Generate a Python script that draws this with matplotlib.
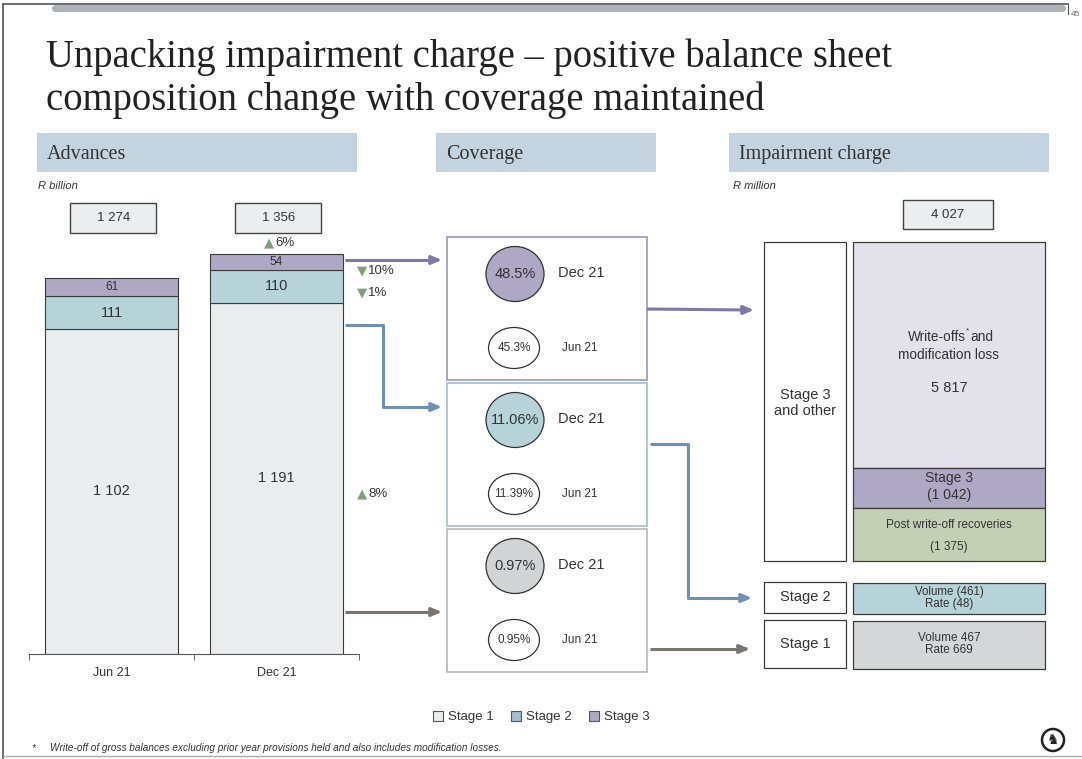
import matplotlib.pyplot as plt
import matplotlib.patches as mpatches
from matplotlib.transforms import blended_transform_factory

# advances, R billion
periods = ["Jun 21", "Dec 21"]
stage1 = [1102, 1191]
stage2 = [111, 110]
stage3 = [61, 54]
totals = [1274, 1356]

# period-on-period change per stage (sign gives the triangle)
change_total = 6
change_stage3 = -10
change_stage2 = -1
change_stage1 = 8

# coverage ratios, Dec 21 then Jun 21
cov_stage3 = ["48.5%", "45.3%"]
cov_stage2 = ["11.06%", "11.39%"]
cov_stage1 = ["0.97%", "0.95%"]
cov_periods = ["Dec 21", "Jun 21"]

# impairment charge, R million
impairment_total = 4027
stack_names = ["Write-offs", "Stage 3", "Post write-off recoveries"]
stack_values = [5817, 1042, 1375]
stage2_charge = ["Volume (461)", "Rate (48)"]
stage1_charge = ["Volume 467", "Rate 669"]

W, H = 1082, 759
SANS = ["Liberation Sans", "DejaVu Sans"]
SERIF = ["Liberation Serif", "DejaVu Serif"]
C1, C2, C3 = "#e9eded", "#b5d3d8", "#aea8c4"
EDGE = "#3c3c3c"
TXT = "#333333"
GREEN = "#7ea07a"


def fmt(v):
    return f"{v:,}".replace(",", " ")


def px_axes(x0, y0, x1, y1):
    return fig.add_axes([x0 / W, 1 - y1 / H, (x1 - x0) / W, (y1 - y0) / H])


fig = plt.figure(figsize=(W / 100, H / 100), dpi=100)
cv = fig.add_axes([0, 0, 1, 1])
cv.set_xlim(0, W)
cv.set_ylim(H, 0)
cv.axis("off")

# slide frame
cv.plot([3, 1068], [4, 4], color="#555555", lw=1.2)
cv.plot([3, 3], [4, H], color="#555555", lw=1.2)
cv.plot([1068, 1068], [4, 14], color="#555555", lw=0.8)
cv.plot([3, W], [756, 756], color="#aaaaaa", lw=1.0)
cv.add_patch(mpatches.FancyBboxPatch((52, 5), 1014, 7, boxstyle="round,pad=0,rounding_size=4",
                                     fc="#aab4ba", ec="none"))
cv.text(1071, 14, "45", fontsize=6, color="#666666", family=SANS, va="center")

# title
cv.text(46, 67, "Unpacking impairment charge \u2013 positive balance sheet", fontsize=27.8,
        family=SERIF, color="#222222", va="baseline")
cv.text(46, 110, "composition change with coverage maintained", fontsize=27.8,
        family=SERIF, color="#222222", va="baseline")

# section headers
for x0, x1, name in [(37, 357, "Advances"), (436, 656, "Coverage"), (729, 1049, "Impairment charge")]:
    cv.add_patch(mpatches.Rectangle((x0, 133), x1 - x0, 39, fc="#c3d3df", ec="none"))
    cv.text(x0 + 10, 159, name, fontsize=14.5, family=SERIF, color=TXT, va="baseline")
cv.text(38, 186, "R billion", fontsize=8, style="italic", family=SANS, color=TXT, va="center")
cv.text(733, 186, "R million", fontsize=8, style="italic", family=SANS, color=TXT, va="center")

# ---- advances stacked bars ----
ax = px_axes(29, 180, 359, 654)
ax.patch.set_alpha(0)
x = [0, 1]
bw = 0.81
b2 = stage1
b3 = [a + b for a, b in zip(stage1, stage2)]
ax.bar(x, stage1, width=bw, color=C1, edgecolor=EDGE, lw=0.8)
ax.bar(x, stage2, bottom=b2, width=bw, color=C2, edgecolor=EDGE, lw=0.8)
ax.bar(x, stage3, bottom=b3, width=bw, color=C3, edgecolor=EDGE, lw=0.8)
ax.set_xlim(-0.5, 1.5)
ax.set_ylim(0, 474 / 0.295)
for i in x:
    ax.text(i, stage1[i] / 2, fmt(stage1[i]), ha="center", va="center", fontsize=10.5, family=SANS, color=TXT)
    ax.text(i, b2[i] + stage2[i] / 2, fmt(stage2[i]), ha="center", va="center", fontsize=10.5, family=SANS, color=TXT)
    ax.text(i, b3[i] + stage3[i] / 2, fmt(stage3[i]), ha="center", va="center", fontsize=8.5, family=SANS, color=TXT)

# total boxes above the bars
tb = blended_transform_factory(ax.transData, ax.transAxes)
for i, t in zip(x, totals):
    xc = i + 0.01
    ax.add_patch(mpatches.Rectangle((xc - 0.26, 0.888), 0.52, 0.063, transform=tb, fc="#ebeeee",
                                    ec="#444444", lw=1, clip_on=False))
    ax.text(xc, 0.9195, fmt(t), transform=tb, ha="center", va="center", fontsize=9.5, family=SANS, color=TXT)

for s in ["top", "left", "right"]:
    ax.spines[s].set_visible(False)
ax.spines["bottom"].set_color("#555555")
ax.set_yticks([])
ax.set_xticks(x, periods)
ax.set_xticks([-0.5, 0.5, 1.5], minor=True)
ax.tick_params(axis="x", which="major", length=0, pad=9, labelsize=9, labelcolor=TXT)
ax.tick_params(axis="x", which="minor", length=4, direction="out", color="#555555")
for lab in ax.get_xticklabels():
    lab.set_family(SANS)


def change_label(xp, yp, val):
    tri = "\u25b2" if val > 0 else "\u25bc"
    cv.text(xp, yp, tri, fontsize=9.5, color=GREEN, family="DejaVu Sans", ha="left", va="center")
    cv.text(xp + 11, yp, f"{abs(val)}%", fontsize=9.5, color=TXT, family=SANS, ha="left", va="center")


change_label(264, 243, change_total)
change_label(357, 271, change_stage3)
change_label(357, 293, change_stage2)
change_label(357, 494, change_stage1)

# ---- coverage boxes ----
cov_rows = [
    (237, "#9d97ba", C3, cov_stage3),
    (383, "#9fc0d0", C2, cov_stage2),
    (529, "#b8b8b8", "#d2d3d5", cov_stage1),
]
for y0, ec, fc, vals in cov_rows:
    cv.add_patch(mpatches.Rectangle((447, y0), 200, 143, fc="white", ec=ec, lw=1.2))
    yd, yj = y0 + 37, y0 + 111
    cv.add_patch(mpatches.Ellipse((515, yd), 58, 55, fc=fc, ec="#333333", lw=0.9))
    cv.add_patch(mpatches.Ellipse((514, yj), 51, 41, fc="white", ec="#333333", lw=0.9))
    cv.text(515, yd, vals[0], ha="center", va="center", fontsize=10.5, family=SANS, color=TXT)
    cv.text(514, yj, vals[1], ha="center", va="center", fontsize=8.5, family=SANS, color=TXT)
    cv.text(558, yd - 1, cov_periods[0], ha="left", va="center", fontsize=10.5, family=SANS, color=TXT)
    cv.text(562, yj, cov_periods[1], ha="left", va="center", fontsize=8.5, family=SANS, color=TXT)

# connector arrows
PURPLE, BLUE, GREY = "#8079a6", "#6e91b3", "#7a756d"


def arrow(pts, color):
    xs = [p[0] for p in pts]
    ys = [p[1] for p in pts]
    cv.plot(xs[:-1] + [xs[-1] - 6], ys[:-1] + [ys[-1]], color=color, lw=2.2, solid_capstyle="butt")
    cv.annotate("", xy=pts[-1], xytext=(xs[-1] - 8, ys[-1]),
                arrowprops=dict(arrowstyle="-|>,head_length=0.6,head_width=0.25", color=color, lw=2.2,
                                shrinkA=0, shrinkB=0))


arrow([(345, 260), (442, 260)], PURPLE)
arrow([(345, 325), (383, 325), (383, 407), (442, 407)], BLUE)
arrow([(345, 612), (442, 612)], GREY)
arrow([(647, 309), (754, 310)], PURPLE)
arrow([(650, 444), (688, 444), (688, 598), (752, 598)], BLUE)
arrow([(650, 649), (750, 649)], GREY)

# ---- impairment charge stack ----
ia = px_axes(853, 242, 1045, 669)
ia.patch.set_alpha(0)
ia.axis("off")
ia.set_xlim(-0.5, 0.5)
ia.set_ylim(427 / 0.0388, 0)
bottoms = [0, stack_values[0], stack_values[0] + stack_values[1]]
stack_colors = ["#e3e1ea", C3, "#c4d0b5"]
bars = ia.bar([0] * 3, stack_values, bottom=bottoms, width=1, color=stack_colors, edgecolor=EDGE, lw=0.9)
for b in bars:
    b.set_clip_on(False)

fs = dict(ha="center", va="center", family=SANS, color=TXT)
# "Write-offs*and" with a raised asterisk, drawn above the stack fill
ia.text(966, 337, stack_names[0], transform=cv.transData, ha="right", va="center", fontsize=9.8,
        family=SANS, color=TXT)
ia.text(968, 331, "*", transform=cv.transData, ha="center", va="center", fontsize=6, family=SANS, color=TXT)
ia.text(970, 337, "and", transform=cv.transData, ha="left", va="center", fontsize=9.8, family=SANS, color=TXT)
ia.text(0, 2910, "modification loss", fontsize=9.8, **fs)
ia.text(0, 3770, fmt(stack_values[0]), fontsize=10.5, **fs)
ia.text(0, bottoms[1] + 260, stack_names[1], fontsize=10, **fs)
ia.text(0, bottoms[1] + 700, f"({fmt(stack_values[1])})", fontsize=10, **fs)
ia.text(0, bottoms[2] + 430, stack_names[2], fontsize=8.5, **fs)
ia.text(0, bottoms[2] + 990, f"({fmt(stack_values[2])})", fontsize=8.5, **fs)

# "Stage 3 and other" spans the full stack
sb = blended_transform_factory(cv.transData, ia.transData)
cv.add_patch(mpatches.Rectangle((764, 0), 82, sum(stack_values), transform=sb, fc="white",
                                ec=EDGE, lw=0.9))
cv.text(805, 403, "Stage 3\nand other", ha="center", va="center", fontsize=10.5, family=SANS,
        color=TXT, linespacing=1.2)

# total box
cv.add_patch(mpatches.Rectangle((903, 200), 90, 29, fc="#ebeeee", ec="#444444", lw=1))
cv.text(948, 214.5, fmt(impairment_total), ha="center", va="center", fontsize=9.5, family=SANS, color=TXT)

# stage 2 and stage 1 rows
for y0, h, name, fc, lines in [(582, 31, "Stage 2", C2, stage2_charge),
                               (620, 48, "Stage 1", "#d4d6d8", stage1_charge)]:
    cv.add_patch(mpatches.Rectangle((764, y0), 82, h, fc="white", ec=EDGE, lw=0.9))
    cv.add_patch(mpatches.Rectangle((853, y0 + 1), 192, h, fc=fc, ec=EDGE, lw=0.9))
    cv.text(805, y0 + h / 2, name, ha="center", va="center", fontsize=10.5, family=SANS, color=TXT)
    cv.text(949, y0 + h / 2, "\n".join(lines), ha="center", va="center", fontsize=8.3 if h < 40 else 8.5,
            family=SANS, color=TXT, linespacing=1.0 if h < 40 else 1.1)

# legend
handles = [mpatches.Patch(fc=C1, ec="#555555", lw=0.8),
           mpatches.Patch(fc="#a3bdcf", ec="#555555", lw=0.8),
           mpatches.Patch(fc=C3, ec="#555555", lw=0.8)]
fig.legend(handles, ["Stage 1", "Stage 2", "Stage 3"], loc="center", bbox_to_anchor=(541 / W, 1 - 717 / H),
           ncol=3, frameon=False, handlelength=0.8, handleheight=0.8, handletextpad=0.35,
           columnspacing=1.3, prop=dict(family=SANS, size=9.5), labelcolor=TXT)

# footnote
cv.text(31, 748, "*", fontsize=7, style="italic", family=SANS, color=TXT, va="center")
cv.text(50, 748, "Write-off of gross balances excluding prior year provisions held and also includes "
        "modification losses.", fontsize=7.2, style="italic", family=SANS, color=TXT, va="center")

# emblem
cv.add_patch(mpatches.Circle((1053, 740), 11, fc="white", ec="#222222", lw=1.8))
cv.text(1053, 740.5, "\u265e", ha="center", va="center", fontsize=10, color="#222222", family="DejaVu Sans")

fig.savefig("out.png", dpi=100)
